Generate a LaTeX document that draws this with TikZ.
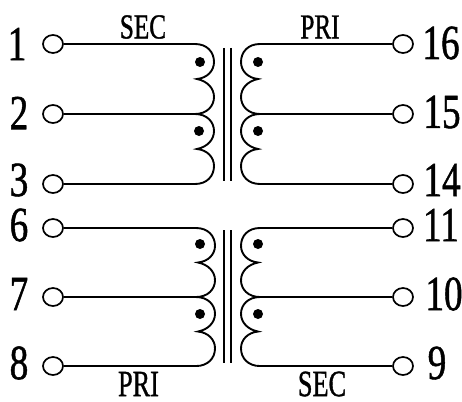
\documentclass[tikz,border=0pt]{standalone}
\usepackage{fontspec}
\setmainfont[FakeBold=1.2]{Liberation Serif}
\usetikzlibrary{shapes.geometric}
\tikzset{
 term/.style={draw,ellipse,line width=1.7pt,minimum width=20pt,minimum height=18pt,inner sep=0pt,fill=white},
 wire/.style={line width=1.9pt},
 core/.style={line width=1.5pt},
 num/.style={inner sep=0pt,font=\fontsize{49}{49}\selectfont,xscale=.76},
 lab/.style={inner sep=0pt,font=\fontsize{35}{35}\selectfont,xscale=.72},
 labb/.style={inner sep=0pt,font=\fontsize{37}{37}\selectfont,xscale=.71},
 dotm/.style={circle,fill=black,minimum size=10pt,inner sep=0pt},
 coil/.pic={
  \coordinate (-a) at (0,0);
  \coordinate (-b) at (0,70);
  \coordinate (-c) at (0,140);
  \draw[wire] (0,0) .. controls (12,0) and (19,8) .. (19,18)
     .. controls (19,27) and (12,34) .. (2,35)
     .. controls (12,37) and (19,44) .. (19,53)
     .. controls (19,62) and (12,70) .. (0,70)
     .. controls (12,70) and (19,78) .. (19,87)
     .. controls (19,96) and (12,103) .. (2,105)
     .. controls (12,106) and (19,113) .. (19,122)
     .. controls (19,132) and (12,140) .. (0,140);
 },
}
\begin{document}
\begin{tikzpicture}[x=1pt,y=-1pt]
\useasboundingbox (0,0) rectangle (462,401);
\node[term] (t1) at (53,44) {};
\node[term] (t2) at (53,114) {};
\node[term] (t3) at (53,184) {};
\node[term] (t6) at (53,228) {};
\node[term] (t7) at (53,297) {};
\node[term] (t8) at (53,366) {};
\node[term] (t16) at (403,44) {};
\node[term] (t15) at (403,114) {};
\node[term] (t14) at (403,184) {};
\node[term] (t11) at (403,228) {};
\node[term] (t10) at (403,297) {};
\node[term] (t9) at (403,366) {};

\foreach \n/\x/\y in {1/17/44,2/19/113,3/19/180,6/19/225,7/19/294,8/19/363,16/441/43,15/442/112,14/442/180,11/441/225,10/444/294,9/437/363}
  \node[num] (n\n) at (\x,\y) {\n};

\node[lab] (ls1) at (143,27) {SEC};
\node[lab] (lp1) at (320,27) {PRI};
\node[labb] (lp2) at (138.5,384) {PRI};
\node[labb] (ls2) at (322,384) {SEC};

\pic (c1) at (195,44) {coil};
\pic (c2) at (260,44) [xscale=-1] {coil};
\pic (c3) at (196,228) [yscale=.986] {coil};
\pic (c4) at (260,228) [xscale=-1,yscale=.986] {coil};

\draw[wire] (t1) -- (c1-a);
\draw[wire] (t2) -- (c1-b);
\draw[wire] (t3) -- (c1-c);
\draw[wire] (t6) -- (c3-a);
\draw[wire] (t7) -- (c3-b);
\draw[wire] (t8) -- (c3-c);
\draw[wire] (t16) -- (c2-a);
\draw[wire] (t15) -- (c2-b);
\draw[wire] (t14) -- (c2-c);
\draw[wire] (t11) -- (c4-a);
\draw[wire] (t10) -- (c4-b);
\draw[wire] (t9) -- (c4-c);

\foreach \x/\y [count=\i] in {200/62,199/131,258/62,258/131,200/244,200/314,258/244,258/314}
  \node[dotm] (d\i) at (\x,\y) {};

\coordinate (k1a) at (224,48); \coordinate (k1b) at (224,181);
\coordinate (k2a) at (231,48); \coordinate (k2b) at (231,181);
\coordinate (k3a) at (224,230); \coordinate (k3b) at (224,363);
\coordinate (k4a) at (231,230); \coordinate (k4b) at (231,363);
\draw[core] (k1a) -- (k1b);
\draw[core] (k2a) -- (k2b);
\draw[core] (k3a) -- (k3b);
\draw[core] (k4a) -- (k4b);
\end{tikzpicture}
\end{document}
